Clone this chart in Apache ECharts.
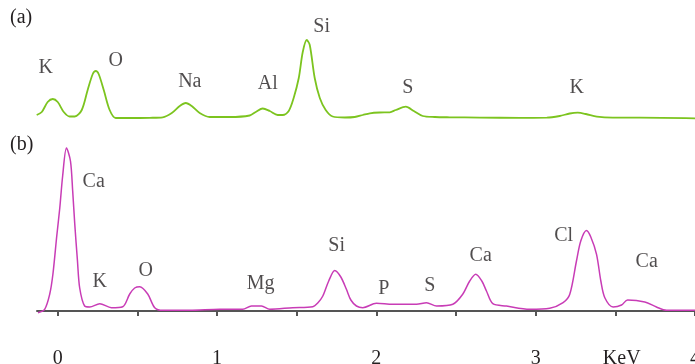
<!DOCTYPE html>
<html>
<head>
<meta charset="utf-8">
<script src="https://cdn.jsdelivr.net/npm/echarts@6/dist/echarts.min.js"></script>
<style>html,body{margin:0;padding:0;background:#fff;}#c{width:695px;height:364px;}</style>
</head>
<body>
<div id="c"></div>
<script>
// Spectrum (a): energy (KeV) and relative intensity
const energyA = [-0.132,-0.100,-0.063,-0.031,0.000,0.038,0.075,0.107,0.151,0.188,0.220,0.239,0.257,0.289,0.326,0.364,0.452,0.578,0.659,0.716,0.766,0.804,0.841,0.891,0.954,1.080,1.205,1.243,1.287,1.331,1.381,1.412,1.450,1.481,1.513,1.538,1.563,1.582,1.613,1.645,1.682,1.726,1.802,1.864,1.915,1.959,2.021,2.084,2.122,2.185,2.235,2.291,2.367,2.461,2.649,2.900,3.070,3.151,3.214,3.264,3.315,3.384,3.484,3.653,4.000];
const intensityA = [2,5,15,18,15,5,0.5,0.5,7,27,43,46,43,27,7,-1,-1,-0.8,-0.3,4,11,14,11,4,0,0,1.5,5,8.5,6,2,2,6,19,39,65,77,72,39,19,7,0.5,-0.5,0,2,3.7,4.5,4.7,7,10.3,6,1,0,-0.3,-0.6,-0.8,-0.7,1,3.5,4.3,3,0.3,-0.7,-0.7,-1.3];

// Spectrum (b)
const energyB = [-0.124,-0.082,-0.050,-0.030,-0.006,0.013,0.031,0.055,0.080,0.094,0.107,0.124,0.138,0.169,0.201,0.264,0.337,0.408,0.452,0.483,0.515,0.565,0.609,0.659,0.829,1.017,1.161,1.216,1.279,1.331,1.475,1.601,1.632,1.664,1.701,1.739,1.777,1.812,1.840,1.875,1.915,2.000,2.103,2.252,2.315,2.378,2.480,2.542,2.586,2.624,2.662,2.691,2.731,2.817,2.963,3.088,3.172,3.214,3.256,3.283,3.319,3.346,3.382,3.409,3.434,3.486,3.539,3.577,3.685,3.758,3.821,4.000];
const intensityB = [-1.7,1.7,17,37,75,103,135,163,150,120,87,50,23,5,4,7.3,3.3,4.3,17,23,24.3,17,3.3,0.7,0.7,1.7,1.7,5,5,1.7,3.3,4.3,8,15,30,40.5,34,21.7,11,5,3.3,7.7,6.7,6.7,8.3,5,6.7,16.7,30,36.7,30,20,7.3,5,1.7,2.7,8.3,16.7,50,70,80.5,74,56.7,30,13.3,4,6,11,9,4,0.7,0.7];

// Peak annotations: element, energy, intensity
const labelsA = ['K','O','Na','Al','Si','S','K'];
const labelXA = [-0.075,0.364,0.829,1.318,1.657,2.197,3.258];
const labelYA = [49,56,35,33,90,29,29];
const labelsB = ['Ca','K','O','Mg','Si','P','S','Ca','Cl','Ca'];
const labelXB = [0.226,0.264,0.552,1.274,1.751,2.047,2.335,2.655,3.176,3.697];
const labelYB = [129,29,40,27,65,22,25,55,75,49];

// Axis ticks and labels
const tickValues = [0,0.5,1,1.5,2,2.5,3,3.5,4];
const tickLabelValues = [0,1,2,3,3.54,4];
const tickLabelTexts = ['0','1','2','3','KeV','4'];

const FONT = 'Liberation Serif';
const TEXT = '#231f20';
const GREEN = '#7cc41f';
const MAGENTA = '#c83cb6';

const zip = (xs, ys) => xs.map((x, i) => [x, ys[i]]);
const labelData = (names, xs, ys) => names.map((n, i) => ({name: n, value: [xs[i], ys[i]]}));

const chart = echarts.init(document.getElementById('c'), null, {renderer: 'canvas'});
const labelSeries = (idx, names, xs, ys) => ({
  type: 'scatter', xAxisIndex: idx, yAxisIndex: idx, silent: true,
  symbolSize: 1, itemStyle: {color: 'rgba(0,0,0,0)'},
  data: labelData(names, xs, ys),
  label: {show: true, position: 'inside', formatter: p => p.name,
    fontFamily: FONT, fontSize: 20, color: TEXT}
});

chart.setOption({
  animation: false,
  backgroundColor: '#fff',
  title: [
    {text: '(a)', left: 10, top: 8, padding: 0, textStyle: {fontFamily: FONT, fontSize: 20, fontWeight: 'normal', color: TEXT}},
    {text: '(b)', left: 10, top: 135, padding: 0, textStyle: {fontFamily: FONT, fontSize: 20, fontWeight: 'normal', color: TEXT}}
  ],
  grid: [
    {left: 37, right: 0, top: 15, height: 105, outerBoundsMode: 'none'},
    {left: 37, right: 0, top: 140, height: 191, outerBoundsMode: 'none'}
  ],
  xAxis: [
    {type: 'value', gridIndex: 0, min: -0.13, max: 4, show: false},
    {type: 'value', gridIndex: 1, min: -0.13, max: 4,
      axisLine: {show: true, lineStyle: {color: '#555', width: 2}},
      splitLine: {show: false},
      axisTick: {show: true, customValues: tickValues, length: 5, lineStyle: {color: '#555', width: 2}},
      axisLabel: {show: true, customValues: tickLabelValues, margin: 18,
        alignMinLabel: 'center', alignMaxLabel: 'center',
        fontFamily: FONT, fontSize: 20, color: TEXT,
        formatter: v => {
          const i = tickLabelValues.findIndex(t => Math.abs(t - v) < 1e-6);
          return i >= 0 ? tickLabelTexts[i] : '';
        }}
    }
  ],
  yAxis: [
    {type: 'value', gridIndex: 0, min: -3, max: 102, show: false},
    {type: 'value', gridIndex: 1, min: -20, max: 171, show: false}
  ],
  series: [
    {type: 'line', xAxisIndex: 0, yAxisIndex: 0, data: zip(energyA, intensityA), showSymbol: false,
      smooth: 0.3, lineStyle: {color: GREEN, width: 1.8}, clip: false},
    {type: 'line', xAxisIndex: 1, yAxisIndex: 1, data: zip(energyB, intensityB), showSymbol: false,
      smooth: 0.3, lineStyle: {color: MAGENTA, width: 1.5}, clip: false},
    labelSeries(0, labelsA, labelXA, labelYA),
    labelSeries(1, labelsB, labelXB, labelYB)
  ]
});
</script>
</body>
</html>
